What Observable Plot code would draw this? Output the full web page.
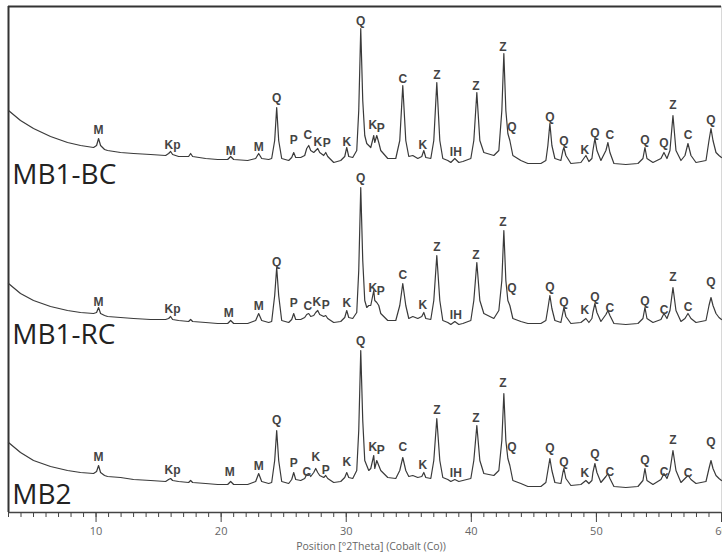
<!DOCTYPE html>
<html>
<head>
<meta charset="utf-8">
<script src="https://cdn.jsdelivr.net/npm/d3@7"></script>
<script src="https://cdn.jsdelivr.net/npm/@observablehq/plot@0.6"></script>
<style>
  html, body { margin: 0; padding: 0; background: #fff; }
  #chart svg { display: block; }
</style>
</head>
<body>
<div id="chart"></div>
<script>
// ---- DATA ----
const sampleNames = ["MB1-BC", "MB1-RC", "MB2"];
const sampleOffsets = [320, 160, 0];

const angles = [
  3.00, 3.96, 5.00, 6.36, 7.72, 8.76, 9.80, 10.04, 10.20, 10.36, 10.68, 10.92, 11.96, 13.00, 14.36,
  15.56, 15.80, 15.96, 16.12, 16.60, 17.40, 17.56, 17.72, 18.76, 19.72, 20.52, 20.76, 21.00, 22.12,
  22.76, 23.00, 23.24, 23.80, 24.04, 24.28, 24.44, 24.60, 24.84, 25.40, 25.64, 25.80, 25.96, 26.36,
  26.68, 26.84, 27.00, 27.16, 27.40, 27.56, 27.72, 27.88, 28.20, 28.36, 28.52, 29.00, 29.56, 29.88,
  30.04, 30.20, 30.52, 30.84, 31.00, 31.16, 31.32, 31.48, 31.64, 31.80, 31.96, 32.20, 32.28, 32.44,
  32.60, 32.76, 33.32, 33.96, 34.28, 34.52, 34.76, 35.00, 35.32, 35.72, 36.04, 36.20, 36.36, 36.76,
  37.00, 37.24, 37.48, 37.72, 38.12, 38.36, 38.68, 39.00, 39.32, 39.96, 40.20, 40.44, 40.68, 41.00,
  41.80, 42.20, 42.44, 42.60, 42.76, 42.92, 43.08, 43.32, 43.96, 44.52, 45.56, 45.96, 46.12, 46.28,
  46.44, 46.68, 47.16, 47.32, 47.40, 47.56, 47.96, 48.76, 49.16, 49.40, 49.64, 49.72, 49.88, 50.04,
  50.36, 50.76, 50.92, 51.08, 51.40, 52.36, 53.32, 53.72, 53.88, 54.04, 54.52, 55.16, 55.40, 55.64,
  55.88, 56.12, 56.36, 56.76, 57.08, 57.32, 57.56, 57.96, 58.76, 59.00, 59.16, 59.32, 59.56, 59.80, 60.00
];

const intensityBC = [
  82, 72, 64, 56, 50, 47, 45, 47, 54, 47, 43, 42, 40, 39, 38,
  37, 39, 41, 38, 36, 36, 39, 36, 34, 33, 33, 36, 33, 32,
  34, 39, 34, 33, 34, 52, 85, 52, 34, 32, 35, 40, 35, 35,
  37, 44, 47, 42, 40, 42, 44, 40, 37, 40, 36, 30, 32, 36,
  45, 36, 35, 42, 82, 164, 92, 57, 49, 47, 45, 57, 50, 57,
  50, 42, 34, 34, 52, 107, 52, 36, 37, 34, 36, 42, 35, 34,
  52, 110, 52, 34, 32, 30, 34, 30, 31, 34, 52, 100, 52, 40,
  37, 42, 82, 139, 82, 59, 52, 37, 32, 29, 29, 32, 47, 69,
  47, 34, 32, 42, 45, 37, 29, 30, 37, 31, 34, 42, 54, 42,
  32, 42, 50, 40, 29, 28, 29, 34, 45, 34, 30, 34, 40, 34,
  42, 77, 42, 32, 37, 49, 37, 30, 32, 52, 64, 52, 40, 37, 35
];

const intensityRC = [
  69, 59, 52, 46, 42, 40, 39, 40, 45, 39, 37, 36, 35, 34, 33,
  33, 34, 36, 33, 32, 31, 33, 31, 30, 29, 29, 32, 29, 29,
  32, 39, 32, 30, 31, 57, 85, 57, 32, 30, 33, 39, 33, 33,
  35, 38, 39, 36, 37, 40, 42, 38, 36, 37, 34, 30, 31, 35,
  42, 35, 34, 40, 82, 165, 92, 52, 45, 47, 47, 62, 52, 50,
  47, 39, 32, 32, 47, 69, 47, 34, 36, 34, 36, 40, 34, 33,
  52, 97, 52, 32, 30, 28, 31, 28, 29, 32, 52, 90, 52, 39,
  34, 42, 72, 122, 72, 52, 47, 34, 31, 29, 29, 32, 44, 57,
  44, 32, 30, 40, 45, 36, 29, 30, 34, 30, 34, 40, 49, 40,
  31, 38, 42, 37, 29, 28, 29, 34, 45, 34, 30, 33, 39, 34,
  42, 65, 42, 31, 34, 39, 34, 30, 32, 47, 55, 47, 39, 35, 33
];

const intensityMB2 = [
  70, 60, 52, 46, 42, 40, 39, 41, 47, 40, 37, 36, 35, 33, 32,
  31, 33, 34, 32, 31, 30, 32, 30, 29, 28, 28, 31, 28, 28,
  31, 39, 31, 29, 30, 52, 82, 52, 31, 29, 33, 40, 33, 32,
  34, 38, 39, 36, 40, 44, 40, 37, 35, 37, 34, 30, 31, 35,
  40, 35, 34, 42, 82, 162, 92, 52, 47, 42, 44, 57, 44, 52,
  47, 42, 35, 34, 42, 55, 42, 36, 37, 35, 36, 40, 35, 34,
  52, 94, 52, 35, 33, 31, 33, 31, 32, 34, 52, 87, 52, 39,
  37, 42, 72, 119, 72, 54, 47, 32, 29, 26, 26, 30, 42, 54,
  42, 30, 29, 40, 44, 34, 27, 28, 32, 29, 32, 40, 49, 40,
  30, 36, 39, 34, 26, 25, 26, 32, 44, 32, 28, 33, 39, 34,
  42, 62, 42, 30, 34, 37, 33, 29, 31, 44, 52, 44, 37, 34, 32
];

// phase labels: [angle, label, level above the trace offset]
const phaseLabelsBC = [
  [10.20, "M", 62], [16.12, "Kp", 47], [20.76, "M", 41], [23.00, "M", 45], [24.44, "Q", 94],
  [25.80, "P", 52], [26.92, "C", 57], [27.72, "K", 50], [28.44, "P", 49], [30.04, "K", 50],
  [31.16, "Q", 171], [32.12, "K", 67], [32.76, "P", 64], [34.52, "C", 113], [36.12, "K", 47],
  [37.24, "Z", 117], [38.76, "IH", 40], [40.36, "Z", 106], [42.52, "Z", 145], [43.24, "Q", 65],
  [46.28, "Q", 75], [47.40, "Q", 51], [49.08, "K", 42], [49.88, "Q", 59], [51.08, "C", 57],
  [53.88, "Q", 52], [55.40, "Q", 49], [56.12, "Z", 87], [57.32, "C", 57], [59.16, "Q", 72]
];
const phaseLabelsRC = [
  [10.20, "M", 50], [16.12, "Kp", 43], [20.60, "M", 39], [23.00, "M", 46], [24.44, "Q", 90],
  [25.80, "P", 49], [26.92, "C", 46], [27.64, "K", 50], [28.36, "P", 47], [30.04, "K", 49],
  [31.16, "Q", 174], [32.12, "K", 64], [32.76, "P", 61], [34.52, "C", 77], [36.12, "K", 47],
  [37.24, "Z", 105], [38.76, "IH", 37], [40.36, "Z", 97], [42.52, "Z", 130], [43.24, "Q", 64],
  [46.28, "Q", 65], [47.40, "Q", 50], [49.08, "K", 42], [49.88, "Q", 55], [51.08, "C", 44],
  [53.88, "Q", 51], [55.40, "C", 42], [56.12, "Z", 75], [57.32, "C", 45], [59.16, "Q", 70]
];
const phaseLabelsMB2 = [
  [10.20, "M", 55], [16.12, "Kp", 42], [20.68, "M", 40], [23.00, "M", 46], [24.44, "Q", 92],
  [25.80, "P", 49], [26.84, "C", 40], [27.56, "K", 55], [28.36, "P", 42], [30.04, "K", 50],
  [31.16, "Q", 171], [32.12, "K", 65], [32.76, "P", 62], [34.52, "C", 65], [36.12, "K", 47],
  [37.24, "Z", 102], [38.76, "IH", 39], [40.36, "Z", 94], [42.52, "Z", 129], [43.24, "Q", 65],
  [46.28, "Q", 64], [47.40, "Q", 50], [49.08, "K", 39], [49.88, "Q", 58], [51.08, "C", 40],
  [53.88, "Q", 52], [55.40, "C", 40], [56.12, "Z", 72], [57.32, "C", 39], [59.16, "Q", 70]
];

const majorTicks = [10, 20, 30, 40, 50, 60];
const minorTicks = d3.range(3, 61);
const xTitle = "Position [°2Theta] (Cobalt (Co))";

// ---- build tables ----
const seriesIntensities = [intensityBC, intensityRC, intensityMB2];
const seriesLabels = [phaseLabelsBC, phaseLabelsRC, phaseLabelsMB2];

const lineData = sampleNames.flatMap((name, i) =>
  angles.map((a, j) => ({sample: name, angle: a, value: seriesIntensities[i][j] + sampleOffsets[i]}))
);
const labelData = sampleNames.flatMap((name, i) =>
  seriesLabels[i].map(([a, t, lv]) => ({sample: name, angle: a, text: t, value: lv + sampleOffsets[i]}))
);
const nameData = sampleNames.map((name, i) => ({name, angle: 3.3, value: sampleOffsets[i] + 9}));

const chart = Plot.plot({
  width: 722,
  height: 558,
  marginLeft: 8,
  marginRight: 1,
  marginTop: 6,
  marginBottom: 46,
  style: {background: "#fff", fontFamily: "'Open Sans', sans-serif"},
  x: {domain: [3, 60]},
  y: {domain: [0, 506], axis: null},
  marks: [
    Plot.ruleX([60], {stroke: "#d8d8d8", strokeWidth: 1}),
    Plot.ruleY([506], {stroke: "#333", strokeWidth: 2}),
    Plot.ruleX([3], {stroke: "#333", strokeWidth: 2}),
    Plot.ruleY([0], {stroke: "#444", strokeWidth: 1.5}),
    Plot.axisX(minorTicks, {tickSize: 5, text: null, stroke: "#444", label: null}),
    Plot.axisX(majorTicks, {tickSize: 10, tickPadding: 5, fontSize: 11, fill: "#666", stroke: "#444", label: null}),
    Plot.text([xTitle], {frameAnchor: "bottom", dy: 37, dx: 6, fontSize: 10.5, fill: "#666"}),
    Plot.line(lineData, {x: "angle", y: "value", z: "sample", stroke: "#3a3a3a", strokeWidth: 1.2, curve: "linear"}),
    Plot.text(labelData, {x: "angle", y: "value", text: "text", fontSize: 12, fontWeight: "bold", fill: "#444",
      fontFamily: "'Liberation Sans', Arial, sans-serif"}),
    Plot.text(nameData, {x: "angle", y: "value", text: "name", textAnchor: "start", lineAnchor: "bottom",
      fontSize: 28, fill: "#222", fontFamily: "'Open Sans', sans-serif"})
  ]
});
document.getElementById("chart").append(chart);
</script>
</body>
</html>
